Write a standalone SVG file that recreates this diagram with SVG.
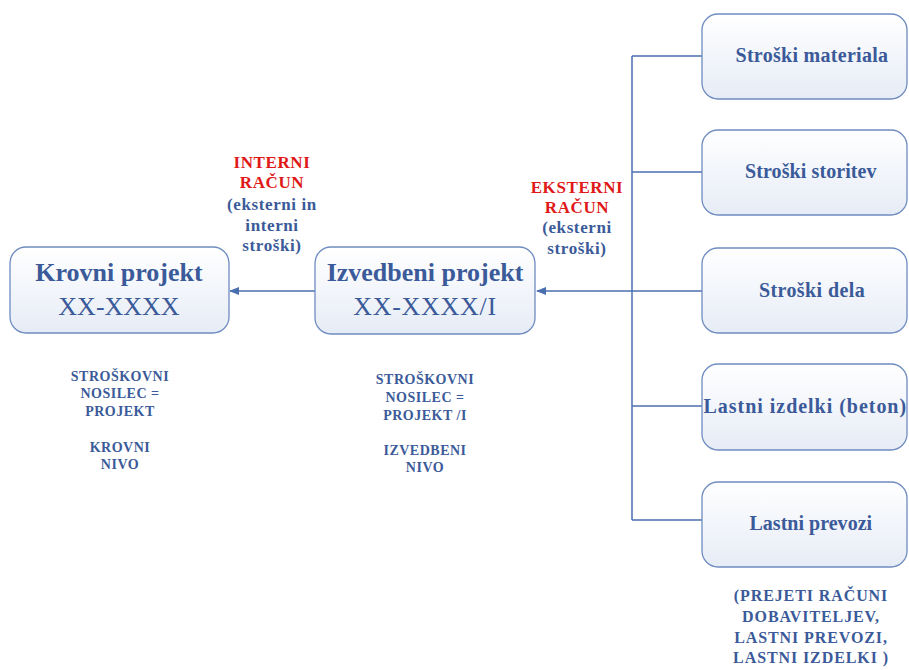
<svg xmlns="http://www.w3.org/2000/svg" width="909" height="670" viewBox="0 0 909 670">
<defs>
<linearGradient id="g" x1="0" y1="0" x2="0" y2="1">
<stop offset="0" stop-color="#ffffff"/>
<stop offset="1" stop-color="#e6ecf6"/>
</linearGradient>
<marker id="arr" markerWidth="10" markerHeight="8" refX="9" refY="4" orient="auto" markerUnits="userSpaceOnUse">
<path d="M0,0 L10,4 L0,8 z" fill="#4a6fb0"/>
</marker>
</defs>
<style>
.box{fill:url(#g);stroke:#6f8cc0;stroke-width:1.3}
text{font-family:'Liberation Serif','DejaVu Serif','Times New Roman',serif;font-weight:bold;fill:#3b5a99;text-anchor:middle}
.big{font-size:26px}
.mid{font-size:20px;letter-spacing:0.4px}
.lbl{font-size:17px;letter-spacing:0.6px}
.note{font-size:16px;letter-spacing:0.9px}
.sm{font-size:14px;letter-spacing:0.5px}
.red{fill:#e01818}
.reg{font-weight:normal}
.c{stroke:#4a6fb0;stroke-width:1.5;fill:none}
</style>
<rect width="909" height="670" fill="#ffffff"/>
<g id="connectors">
<line class="c" x1="632" y1="56" x2="632" y2="520"/>
<line class="c" x1="632" y1="56" x2="702" y2="56"/>
<line class="c" x1="632" y1="172" x2="702" y2="172"/>
<line class="c" x1="632" y1="291" x2="702" y2="291"/>
<line class="c" x1="632" y1="406" x2="702" y2="406"/>
<line class="c" x1="632" y1="520" x2="702" y2="520"/>
<line class="c" x1="632" y1="291" x2="537" y2="291" marker-end="url(#arr)"/>
<line class="c" x1="315" y1="291" x2="230" y2="291" marker-end="url(#arr)"/>
</g>
<g id="krovni">
<rect class="box" x="10" y="247" width="219" height="86" rx="16"/>
<text class="big" x="119" y="281">Krovni projekt</text>
<text class="big reg" x="119" y="315">XX-XXXX</text>
</g>
<g id="izvedbeni">
<rect class="box" x="315" y="247" width="220" height="87" rx="16"/>
<text class="big" x="425" y="281">Izvedbeni projekt</text>
<text class="big reg" x="425" y="315" letter-spacing="0.7">XX-XXXX/I</text>
</g>
<g id="materiala">
<rect class="box" x="702" y="14" width="205" height="85" rx="16"/>
<text class="mid" x="812" y="62" textLength="153" lengthAdjust="spacing">Stroški materiala</text>
</g>
<g id="storitev">
<rect class="box" x="702" y="130" width="205" height="85" rx="16"/>
<text class="mid" x="811" y="178" textLength="132" lengthAdjust="spacing">Stroški storitev</text>
</g>
<g id="dela">
<rect class="box" x="702" y="248" width="205" height="85" rx="16"/>
<text class="mid" x="812" y="297">Stroški dela</text>
</g>
<g id="izdelki">
<rect class="box" x="702" y="364" width="205" height="86" rx="16"/>
<text class="mid" x="805" y="413" textLength="203" lengthAdjust="spacing">Lastni izdelki (beton)</text>
</g>
<g id="prevozi">
<rect class="box" x="702" y="482" width="205" height="85" rx="16"/>
<text class="mid" x="811" y="530" textLength="123" lengthAdjust="spacing">Lastni prevozi</text>
</g>
<g id="interni-label">
<text class="lbl red" x="272" y="168">INTERNI</text>
<text class="lbl red" x="272" y="188">RAČUN</text>
<text class="lbl" x="272" y="210">(eksterni in</text>
<text class="lbl" x="272" y="231">interni</text>
<text class="lbl" x="272" y="251">stroški)</text>
</g>
<g id="eksterni-label">
<text class="lbl red" x="577" y="193">EKSTERNI</text>
<text class="lbl red" x="577" y="213">RAČUN</text>
<text class="lbl" x="577" y="233">(eksterni</text>
<text class="lbl" x="577" y="254">stroški)</text>
</g>
<g id="krovni-note">
<text class="sm" x="120" y="381">STROŠKOVNI</text>
<text class="sm" x="120" y="398">NOSILEC =</text>
<text class="sm" x="120" y="416">PROJEKT</text>
<text class="sm" x="120" y="452">KROVNI</text>
<text class="sm" x="120" y="469">NIVO</text>
</g>
<g id="izvedbeni-note">
<text class="sm" x="425" y="384">STROŠKOVNI</text>
<text class="sm" x="425" y="402">NOSILEC =</text>
<text class="sm" x="425" y="420">PROJEKT /I</text>
<text class="sm" x="425" y="455">IZVEDBENI</text>
<text class="sm" x="425" y="472">NIVO</text>
</g>
<g id="prejeti-note">
<text class="note" x="811" y="601">(PREJETI RAČUNI</text>
<text class="note" x="811" y="622">DOBAVITELJEV,</text>
<text class="note" x="811" y="643">LASTNI PREVOZI,</text>
<text class="note" x="811" y="663">LASTNI IZDELKI )</text>
</g>
</svg>
